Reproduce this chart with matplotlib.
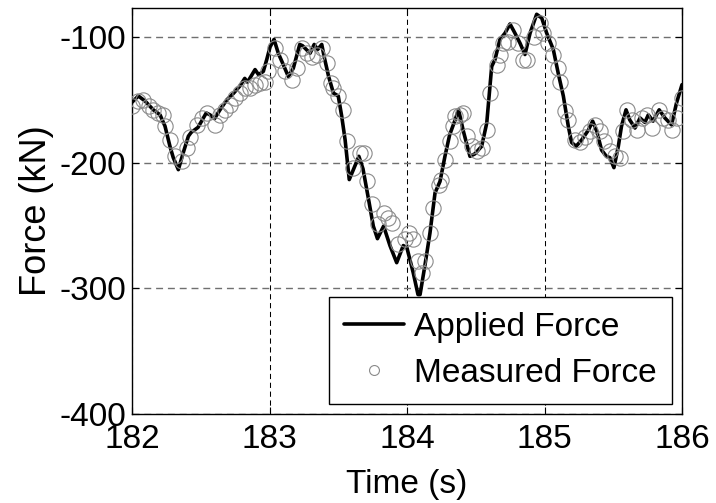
import matplotlib
matplotlib.use("Agg")
import matplotlib.pyplot as plt
import numpy as np

plt.rcParams['font.family'] = ['Liberation Sans', 'DejaVu Sans']

# Applied force (black line)
t_applied = [182.0, 182.046, 182.095, 182.155, 182.204, 182.24, 182.276, 182.30, 182.337,
             182.373, 182.41, 182.43, 182.48, 182.54, 182.567, 182.60, 182.64, 182.69,
             182.737, 182.785, 182.82, 182.84, 182.895, 182.92, 182.955, 182.98, 183.004,
             183.033, 183.064, 183.10, 183.137, 183.173, 183.22, 183.24, 183.295, 183.325,
             183.35, 183.38, 183.40, 183.43, 183.465, 183.50, 183.525, 183.55, 183.58,
             183.61, 183.65, 183.68, 183.72, 183.755, 183.785, 183.83, 183.876, 183.925,
             183.973, 184.0, 184.045, 184.08, 184.095, 184.13, 184.167, 184.204, 184.24,
             184.276, 184.31, 184.35, 184.375, 184.41, 184.458, 184.494, 184.543, 184.58,
             184.616, 184.64, 184.676, 184.713, 184.749, 184.785, 184.822, 184.858, 184.895,
             184.943, 184.98, 185.016, 185.064, 185.10, 185.137, 185.173, 185.197, 185.23,
             185.27, 185.32, 185.35, 185.38, 185.415, 185.45, 185.475, 185.505, 185.537,
             185.56, 185.593, 185.62, 185.658, 185.695, 185.73, 185.755, 185.79, 185.834,
             185.876, 185.924, 185.96, 186.0]
f_applied = [-152, -147, -151, -158, -162, -171, -187, -196, -205.6,
             -192, -179, -176, -172, -160.5, -162, -165, -158, -150,
             -145, -139, -133, -136, -126, -130, -127.5, -118, -108,
             -102, -113, -122, -131.5, -125, -106, -107, -113, -106,
             -110, -106, -117, -131.5, -144.7, -147, -163, -182, -213.5,
             -205.6, -195, -205, -229, -250.5, -260.5, -250.5, -266, -279.6,
             -266, -268, -287.5, -305, -305, -282, -256, -224, -215,
             -195, -178, -166, -158, -175, -195, -193, -187, -168.5,
             -123.5, -118, -102, -97, -89.7, -97, -105, -114, -97,
             -82, -85, -97, -110, -129, -147, -171, -184, -187,
             -182, -174, -167, -175, -190, -195, -196, -204, -187,
             -171, -158, -166, -172.5, -164.5, -168, -162, -167, -158,
             -164.5, -170, -152.6, -138]

# Measured force (open circles)
t_measured = [182.002, 182.046, 182.082, 182.12, 182.155, 182.19, 182.228, 182.24, 182.276,
              182.313, 182.36, 182.40, 182.42, 182.47, 182.507, 182.543, 182.60, 182.64,
              182.676, 182.713, 182.75, 182.785, 182.82, 182.858, 182.895, 182.93, 182.967,
              182.99, 183.04, 183.076, 183.11, 183.16, 183.20, 183.234, 183.27, 183.307,
              183.343, 183.38, 183.416, 183.45, 183.465, 183.50, 183.537, 183.56, 183.61,
              183.66, 183.69, 183.707, 183.743, 183.79, 183.835, 183.865, 183.89, 183.937,
              183.985, 184.015, 184.045, 184.08, 184.107, 184.13, 184.167, 184.19, 184.23,
              184.25, 184.276, 184.31, 184.337, 184.35, 184.385, 184.41, 184.434, 184.47,
              184.507, 184.543, 184.58, 184.604, 184.652, 184.676, 184.70, 184.737, 184.773,
              184.81, 184.846, 184.875, 184.92, 184.967, 184.99, 185.027, 185.064, 185.10,
              185.113, 185.15, 185.173, 185.22, 185.258, 185.295, 185.33, 185.367, 185.404,
              185.43, 185.476, 185.51, 185.55, 185.57, 185.60, 185.634, 185.67, 185.707,
              185.743, 185.78, 185.83, 185.865, 185.90, 185.93, 185.967, 186.0]
f_measured = [-155, -151, -150, -155, -158, -160.5, -162, -171, -182,
              -195, -199, -188, -180, -170, -164.5, -160.5, -170, -162,
              -158, -154, -148.6, -144.7, -140.7, -140.7, -138, -136.7, -135.5,
              -127.5, -109, -118, -127.5, -134, -125, -109, -113, -115.6,
              -114, -109, -121, -136.7, -140.7, -147, -158, -183, -204,
              -192, -192, -215, -233, -249, -240, -244, -248, -265,
              -261, -256, -261, -278, -287.5, -278, -256, -236, -217.5,
              -213.5, -197.6, -183, -171, -163, -162, -160.5, -179, -187,
              -191, -188, -174, -144.7, -122, -114, -105, -104, -94.4,
              -105, -118, -118, -99.8, -89, -97, -105, -114, -125,
              -135.5, -159, -166, -182, -184, -180, -175, -170, -175,
              -183, -191, -195, -196, -175, -158, -166, -174, -164.5,
              -162, -172.5, -158, -164.5, -166, -174, -164.5, -148.6]

x_ticks = [182, 183, 184, 185, 186]
y_ticks = [-400, -300, -200, -100]

fig = plt.figure(figsize=(7.16, 5.03), dpi=100)
ax = fig.add_axes([132/716, 1 - 414/503, 550/716, 406/503])

ax.plot(t_applied, f_applied, color='black', lw=2.6, solid_joinstyle='round',
        solid_capstyle='round', label='Applied Force', zorder=3)
ax.plot(t_measured, f_measured, linestyle='none', marker='o', markersize=11,
        markerfacecolor='none', markeredgecolor='#8a8a8a', markeredgewidth=0.8,
        label='Measured Force', zorder=4)

ax.set_xlim(182, 186)
ax.set_ylim(-400, -77)
ax.set_xticks(x_ticks)
ax.set_yticks(y_ticks)
ax.set_xticklabels([str(v) for v in x_ticks])
ax.set_yticklabels([str(v) for v in y_ticks])

ax.xaxis.grid(True, color='black', linestyle=(0, (5, 3.5)), linewidth=0.75)
ax.yaxis.grid(True, color='#707070', linestyle=(0, (5, 3.5)), linewidth=1.0)
ax.set_axisbelow(True)

ax.tick_params(direction='in', length=5, width=0.8, top=True, right=True,
               labelsize=24)
ax.tick_params(axis='x', pad=7.5)
ax.tick_params(axis='y', pad=4)
for s in ax.spines.values():
    s.set_linewidth(1.0)
    s.set_color('black')

ax.set_xlabel('Time (s)', fontsize=24, labelpad=10)
ax.set_ylabel('Force (kN)', fontsize=26, labelpad=4)

leg = ax.legend(loc='lower right', bbox_to_anchor=(0.982, 0.0246), borderaxespad=0,
                fontsize=24, handlelength=1.8, handletextpad=0.3, borderpad=0.45,
                labelspacing=0.45, markerscale=0.65, fancybox=False, framealpha=1,
                edgecolor='black')
leg.get_frame().set_linewidth(1.0)

fig.savefig('out.png', dpi=100)
